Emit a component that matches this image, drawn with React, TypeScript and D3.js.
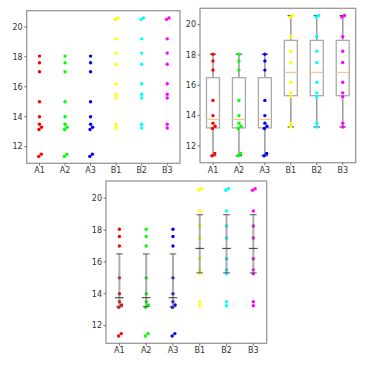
import React from 'react';
import * as d3 from 'd3';

const categories = ['A1', 'A2', 'A3', 'B1', 'B2', 'B3'];
const colors = ['#ff0000', '#00ff00', '#0000ff', '#ffff00', '#00ffff', '#ff00ff'];

// values shared by A1..A3 and by B1..B3, with the small x offsets seen in the picture
const groupAValues = [18.05, 17.6, 17.0, 15.0, 14.0, 13.5, 13.3, 13.15, 11.5, 11.35];
const groupAJitter = [0, 0, 0, 0, 0, 0, 0.08, -0.02, 0.07, -0.03];
const groupBValues = [20.6, 20.5, 19.2, 18.25, 17.5, 16.2, 15.5, 15.25, 13.5, 13.25];
const groupBJitter = [0.07, -0.03, 0, 0, 0, 0, 0, 0, 0, 0];

const yTicks = [12, 14, 16, 18, 20];
const yDomain = [10.89, 21.08];

const series = categories.map((name, i) => ({
  name,
  color: colors[i],
  values: i < 3 ? groupAValues : groupBValues,
  jitter: i < 3 ? groupAJitter : groupBJitter,
}));

type Kind = 'scatter' | 'box' | 'iqr';

interface PanelProps {
  left: number;
  top: number;
  right: number;
  bottom: number;
  kind: Kind;
}

const spine = '#999';
const textColor = '#333';

const Panel: React.FC<PanelProps> = ({ left, top, right, bottom, kind }) => {
  const x = d3.scaleLinear().domain([0.5, 6.5]).range([left, right]);
  const y = d3.scaleLinear().domain(yDomain).range([bottom, top]);

  const stats = series.map((s) => {
    const sorted = [...s.values].sort(d3.ascending);
    const q1 = d3.quantile(sorted, 0.25) || 0;
    const med = d3.quantile(sorted, 0.5) || 0;
    const q3 = d3.quantile(sorted, 0.75) || 0;
    const iqr = q3 - q1;
    const lo = d3.min(sorted.filter((v) => v >= q1 - 1.5 * iqr)) || 0;
    const hi = d3.max(sorted.filter((v) => v <= q3 + 1.5 * iqr)) || 0;
    return { q1, med, q3, lo, hi };
  });

  const boxHalf = (x(1.25) - x(1)) ;
  const capHalf = (x(1.125) - x(1));

  const points = series.map((s, i) => (
    <g key={s.name}>
      {s.values.map((v, j) => (
        <circle key={j} cx={x(i + 1 + s.jitter[j])} cy={y(v)} r={1.7} fill={s.color} />
      ))}
    </g>
  ));

  return (
    <g>
      {kind === 'box' &&
        stats.map((st, i) => {
          const cx = x(i + 1);
          return (
            <g key={i}>
              <line x1={cx} x2={cx} y1={y(st.q3)} y2={y(st.hi)} stroke="#999" strokeWidth={1.5} />
              <line x1={cx} x2={cx} y1={y(st.q1)} y2={y(st.lo)} stroke="#999" strokeWidth={1.5} />
              <line x1={cx - capHalf} x2={cx + capHalf} y1={y(st.hi)} y2={y(st.hi)} stroke="#555" strokeWidth={1.2} />
              <line x1={cx - capHalf} x2={cx + capHalf} y1={y(st.lo)} y2={y(st.lo)} stroke="#555" strokeWidth={1.2} />
              <rect
                x={cx - boxHalf}
                y={y(st.q3)}
                width={boxHalf * 2}
                height={y(st.q1) - y(st.q3)}
                fill="none"
                stroke="#aaa"
                strokeWidth={1.3}
              />
              <line x1={cx - boxHalf} x2={cx + boxHalf} y1={y(st.med)} y2={y(st.med)} stroke="#ffc08a" strokeWidth={1.2} />
            </g>
          );
        })}
      {points}
      {kind === 'iqr' &&
        stats.map((st, i) => {
          const cx = x(i + 1);
          return (
            <g key={i}>
              <line x1={cx} x2={cx} y1={y(st.q3)} y2={y(st.q1)} stroke="#666" strokeOpacity={0.55} strokeWidth={2} />
              <line x1={cx - capHalf} x2={cx + capHalf} y1={y(st.q3)} y2={y(st.q3)} stroke="#555" strokeWidth={1} />
              <line x1={cx - capHalf} x2={cx + capHalf} y1={y(st.q1)} y2={y(st.q1)} stroke="#555" strokeWidth={1} />
              <line x1={cx - capHalf - 1} x2={cx + capHalf + 1} y1={y(st.med)} y2={y(st.med)} stroke="#333" strokeWidth={1} />
            </g>
          );
        })}
      {/* axes */}
      <rect x={left} y={top} width={right - left} height={bottom - top} fill="none" stroke={spine} strokeWidth={1.3} />
      {yTicks.map((t) => (
        <g key={t}>
          <line x1={left - 2.5} x2={left} y1={y(t)} y2={y(t)} stroke="#555" strokeWidth={0.8} />
          <text x={left - 4} y={y(t)} dy="0.35em" textAnchor="end" fontSize={8} fill={textColor}>
            {t}
          </text>
        </g>
      ))}
      {categories.map((c, i) => (
        <g key={c}>
          <line x1={x(i + 1)} x2={x(i + 1)} y1={bottom} y2={bottom + 2.5} stroke="#555" strokeWidth={0.8} />
          <text x={x(i + 1)} y={bottom + 10} textAnchor="middle" fontSize={8} fill={textColor}>
            {c}
          </text>
        </g>
      ))}
    </g>
  );
};

const App: React.FC = () => {
  return (
    <svg
      width={371}
      height={367}
      style={{ position: 'absolute', left: 0, top: 0, background: '#fff' }}
      fontFamily="DejaVu Sans, sans-serif"
    >
      <rect width={371} height={367} fill="#fff" />
      <Panel left={26.7} top={10.7} right={180} bottom={163.3} kind="scatter" />
      <Panel left={200} top={8.3} right={355.7} bottom={162.7} kind="box" />
      <Panel left={106} top={181} right={266.7} bottom={343.3} kind="iqr" />
    </svg>
  );
};

export default App;
